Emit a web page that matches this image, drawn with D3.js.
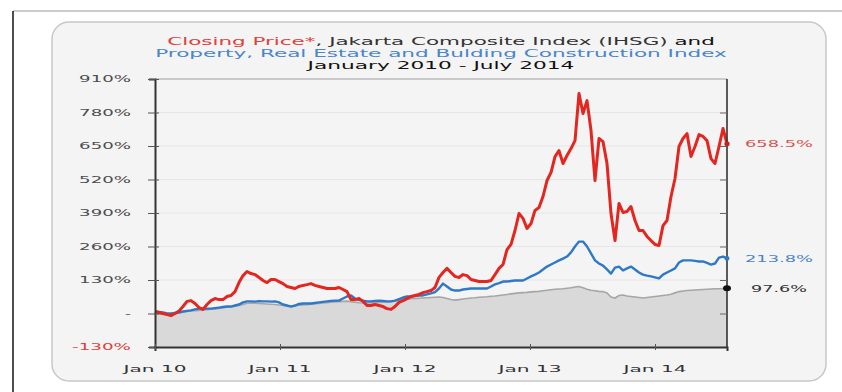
<!DOCTYPE html>
<html>
<head>
<meta charset="utf-8">
<script src="https://cdn.jsdelivr.net/npm/d3@7"></script>
<style>
  html, body { margin: 0; padding: 0; background: #ffffff; }
  svg { display: block; }
</style>
</head>
<body>
<svg id="chart" width="842" height="392"></svg>
<script>
// ---------------- DATA ----------------
// Sample index 0..143 spans January 2010 - July 2014
const titleLine1 = [
  { text: "Closing Price*", color: "#e0403a" },
  { text: ", Jakarta Composite Index (IHSG) ", color: "#333333" },
  { text: "and", color: "#111111" }
];
const titleLine2 = "Property, Real Estate and Bulding Construction Index";
const titleLine3 = "January 2010 - July 2014";

const xTickLabels = ["Jan 10", "Jan 11", "Jan 12", "Jan 13", "Jan 14"];
const xTickIndex = [0, 31.25, 62.5, 93.75, 125];

const yTickValues = [-130, 0, 130, 260, 390, 520, 650, 780, 910];
const yTickLabels = ["-130%", "-", "130%", "260%", "390%", "520%", "650%", "780%", "910%"];

// Closing price (red), % change since Jan 2010
const closingPrice = [
  8, 4, 0, -4, -8, 0, 10, 27, 47, 50,
  39, 23, 16, 35, 50, 58, 54, 54, 66, 70,
  85, 120, 147, 163, 155, 151, 140, 128, 120, 132,
  132, 124, 116, 105, 101, 97, 105, 109, 112, 116,
  109, 105, 101, 97, 97, 97, 101, 93, 85, 54,
  54, 58, 47, 31, 31, 35, 31, 27, 19, 16,
  27, 43, 50, 58, 66, 70, 74, 81, 85, 89,
  101, 140, 159, 175, 159, 144, 140, 151, 147, 132,
  128, 124, 124, 124, 128, 151, 175, 190, 248, 268,
  322, 388, 369, 330, 349, 400, 411, 454, 516, 547,
  609, 632, 582, 613, 640, 671, 854, 776, 826, 710,
  516, 679, 667, 582, 388, 283, 427, 392, 396, 415,
  361, 322, 322, 299, 283, 268, 264, 341, 361, 454,
  524, 648, 679, 698, 609, 648, 694, 687, 671, 601,
  582, 648, 718, 658.5
];

// Property, Real Estate and Building Construction Index (blue)
const propertyIndex = [
  8, 6, 4, 0, 0, 2, 4, 8, 10, 12,
  16, 19, 19, 19, 19, 21, 23, 25, 27, 27,
  31, 35, 43, 47, 47, 46, 48, 47, 47, 46,
  47, 43, 35, 31, 27, 31, 37, 39, 39, 39,
  41, 43, 45, 47, 49, 50, 50, 58, 66, 70,
  58, 52, 50, 47, 47, 49, 50, 49, 47, 47,
  50, 56, 62, 66, 66, 68, 70, 70, 74, 78,
  83, 97, 116, 105, 93, 89, 89, 93, 95, 97,
  97, 97, 97, 97, 105, 113, 118, 124, 124, 126,
  128, 128, 128, 136, 144, 151, 159, 171, 182, 190,
  198, 206, 213, 221, 237, 260, 279, 279, 260, 233,
  206, 194, 186, 171, 155, 178, 182, 167, 175, 182,
  171, 159, 151, 147, 144, 140, 136, 151, 159, 167,
  175, 198, 206, 206, 206, 204, 202, 202, 196, 190,
  194, 217, 221, 213.8
];

// Jakarta Composite Index (IHSG, grey area)
const ihsgIndex = [
  0, -2, -3, -4, -3, -1, 2, 5, 8, 10,
  11, 12, 13, 15, 17, 18, 20, 22, 24, 26,
  28, 31, 35, 40, 41, 40, 39, 38, 37, 36,
  35, 33, 31, 29, 28, 30, 32, 33, 34, 36,
  38, 39, 41, 42, 44, 45, 46, 47, 48, 46,
  44, 42, 41, 41, 42, 42, 43, 44, 45, 47,
  49, 51, 53, 55, 57, 58, 59, 60, 61, 62,
  63, 64, 62, 58, 54, 52, 54, 56, 58, 60,
  61, 63, 64, 65, 67, 68, 70, 72, 74, 76,
  78, 80, 81, 82, 84, 85, 86, 88, 90, 92,
  94, 95, 96, 98, 100, 103, 105, 100, 94, 90,
  88, 86, 85, 80, 64, 60, 70, 72, 68, 66,
  64, 62, 60, 62, 64, 66, 68, 70, 72, 75,
  80, 85, 87, 89, 90, 91, 92, 93, 94, 95,
  96, 96, 97, 97.6
];

const endLabels = [
  { label: "658.5%", color: "#d9534f", series: "red" },
  { label: "213.8%", color: "#4a86c8", series: "blue" },
  { label: "97.6%", color: "#333333", series: "grey" }
];

// ---------------- DRAWING ----------------
const svg = d3.select("#chart");
const FONT = "'DejaVu Sans', 'Open Sans', sans-serif";

const plot = { left: 155, right: 727, top: 79, bottom: 347 };
const n = closingPrice.length;
const x = d3.scaleLinear().domain([0, n - 1]).range([plot.left, plot.right]);
const y = d3.scaleLinear().domain([-130, 910]).range([plot.bottom, plot.top]);

// outer frame
svg.append("line").attr("x1", 13).attr("x2", 842).attr("y1", 11).attr("y2", 11)
  .attr("stroke", "#9a9a9a").attr("stroke-width", 1.2);
svg.append("line").attr("x1", 13).attr("x2", 13).attr("y1", 11).attr("y2", 392)
  .attr("stroke", "#222").attr("stroke-width", 1.6);

// rounded panel
svg.append("rect").attr("x", 52).attr("y", 22).attr("width", 774).attr("height", 359)
  .attr("rx", 17).attr("ry", 17)
  .attr("fill", "#f4f4f4").attr("stroke", "#c8c8c8").attr("stroke-width", 1.5);

// helper for horizontally stretched text
function stretchedText(parent, px, py, anchor, targetW, size, fill, weight, content) {
  const t = parent.append("text")
    .attr("x", 0).attr("y", 0)
    .attr("text-anchor", anchor)
    .attr("font-family", FONT)
    .attr("font-size", size)
    .attr("font-weight", weight || "normal")
    .attr("fill", fill);
  if (Array.isArray(content)) {
    content.forEach(c => t.append("tspan").attr("fill", c.color).text(c.text));
  } else {
    t.text(content);
  }
  const w = t.node().getComputedTextLength();
  const k = w > 0 ? targetW / w : 1;
  t.attr("transform", `translate(${px},${py}) scale(${k},1)`);
  return t;
}

// title
const cx = (plot.left + plot.right) / 2;
stretchedText(svg, cx, 45, "middle", 548, 10, "#333", "normal", titleLine1);
stretchedText(svg, cx, 57, "middle", 572, 10, "#4a86c8", "normal", titleLine2);
stretchedText(svg, cx, 69, "middle", 267, 10, "#111", "normal", titleLine3);

// gridlines
svg.append("g").selectAll("line").data(yTickValues.slice(1, -1)).join("line")
  .attr("x1", plot.left).attr("x2", plot.right)
  .attr("y1", d => y(d)).attr("y2", d => y(d))
  .attr("stroke", "#e6e6e6").attr("stroke-width", 1);

// IHSG grey area
const area = d3.area().x((d, i) => x(i)).y0(y(-130)).y1(d => y(d));
svg.append("path").datum(ihsgIndex).attr("d", area).attr("fill", "#d9d9d9");
const line = d3.line().x((d, i) => x(i)).y(d => y(d));
svg.append("path").datum(ihsgIndex).attr("d", line)
  .attr("fill", "none").attr("stroke", "#a6a6a6").attr("stroke-width", 1.6);

// blue and red lines
svg.append("path").datum(propertyIndex).attr("d", line)
  .attr("fill", "none").attr("stroke", "#2f78c8").attr("stroke-width", 2.4)
  .attr("stroke-linejoin", "round");
svg.append("path").datum(closingPrice).attr("d", line)
  .attr("fill", "none").attr("stroke", "#e3261f").attr("stroke-width", 3)
  .attr("stroke-linejoin", "round");

// plot frame
svg.append("line").attr("x1", plot.left).attr("x2", plot.right).attr("y1", plot.top).attr("y2", plot.top)
  .attr("stroke", "#a0a0a0").attr("stroke-width", 1.2);
svg.append("line").attr("x1", plot.right).attr("x2", plot.right).attr("y1", plot.top).attr("y2", plot.bottom)
  .attr("stroke", "#333").attr("stroke-width", 1.6);

// y axis (left)
const yAxis = d3.axisLeft(y).tickValues(yTickValues).tickSize(6).tickFormat("");
const gy = svg.append("g").attr("transform", `translate(${plot.left},0)`).call(yAxis);
gy.select(".domain").attr("stroke", "#333").attr("stroke-width", 2);
gy.selectAll(".tick line").attr("stroke", "#555").attr("x2", -7).attr("x1", 4);
yTickValues.forEach((v, i) => {
  stretchedText(svg, 131, y(v) + 3.2, "end", yTickLabels[i] === "-" ? 6 : (yTickLabels[i].length === 5 ? 59 : 52),
    9, i === 0 ? "#e0403a" : "#4d4d4d", "normal", yTickLabels[i]);
});

// right side minor ticks
const yAxisR = d3.axisLeft(y).tickValues(yTickValues.slice(1, -1)).tickSize(6).tickFormat("");
const gyr = svg.append("g").attr("transform", `translate(${plot.right},0)`).call(yAxisR);
gyr.select(".domain").remove();
gyr.selectAll(".tick line").attr("stroke", "#666").attr("x2", -7).attr("x1", 0);

// x axis
const xAxis = d3.axisBottom(x).tickValues(xTickIndex).tickSize(4).tickFormat("");
const gx = svg.append("g").attr("transform", `translate(0,${plot.bottom})`).call(xAxis);
gx.select(".domain").attr("stroke", "#333").attr("stroke-width", 2);
gx.selectAll(".tick line").attr("stroke", "#555").attr("y1", -3).attr("y2", 3);
xTickIndex.forEach((t, i) => {
  stretchedText(svg, x(t), 372, "middle", 63, 9.5, "#333333", "normal", xTickLabels[i]);
});

// end markers and labels
const lastVals = {
  red: closingPrice[n - 1],
  blue: propertyIndex[n - 1],
  grey: ihsgIndex[n - 1]
};
svg.append("circle").attr("cx", x(n - 1)).attr("cy", y(lastVals.red)).attr("r", 2.6).attr("fill", "#c62020");
svg.append("circle").attr("cx", x(n - 1)).attr("cy", y(lastVals.blue)).attr("r", 2.4).attr("fill", "#2f78c8");
svg.append("ellipse").attr("cx", x(n - 1)).attr("cy", y(lastVals.grey)).attr("rx", 4).attr("ry", 3).attr("fill", "#111");

endLabels.forEach(e => {
  stretchedText(svg, 779, y(lastVals[e.series]) + 3.2, "middle", e.series === "grey" ? 56 : 68,
    9, e.color, "normal", e.label);
});
</script>
</body>
</html>
